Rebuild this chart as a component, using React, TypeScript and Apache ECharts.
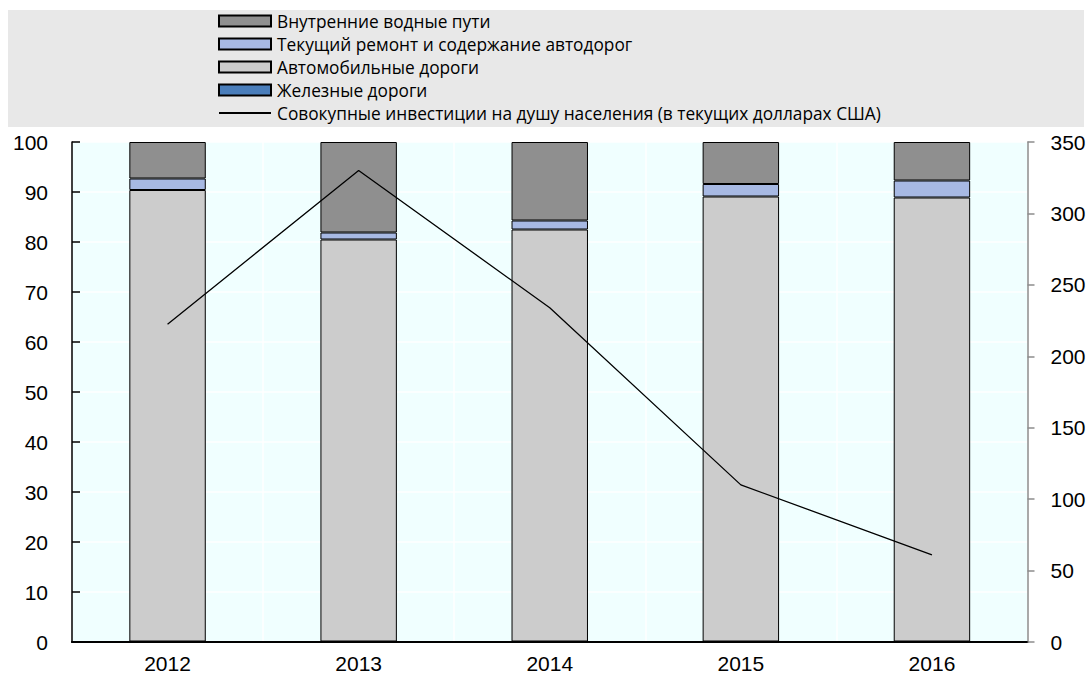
import React, { useEffect, useRef } from "react";
import * as echarts from "echarts";

const years = ["2012", "2013", "2014", "2015", "2016"];
const railways = [0.1, 0.1, 0.1, 0.1, 0.1];
const roads = [90.3, 80.4, 82.4, 89.0, 88.8];
const maintenance = [2.3, 1.4, 1.8, 2.5, 3.4];
const waterways = [7.3, 18.1, 15.7, 8.4, 7.7];
const perCapita = [222.5, 330, 234, 110, 61];
const leftTicks = { min: 0, max: 100, interval: 10 };
const rightTicks = { min: 0, max: 350, interval: 50 };

const names = {
  water: "Внутренние водные пути",
  maint: "Текущий ремонт и содержание автодорог",
  roads: "Автомобильные дороги",
  rail: "Железные дороги",
  line: "Совокупные инвестиции на душу населения (в текущих долларах США)",
};

export default function App() {
  const ref = useRef<HTMLDivElement>(null);
  useEffect(() => {
    if (!ref.current) return;
    const chart = echarts.init(ref.current, null, { renderer: "svg" });
    const axisFont = {
      fontFamily: "'Liberation Sans Narrow', 'Arial Narrow', 'Liberation Sans', Arial",
      fontSize: 21,
      color: "#000",
    };
    const barBase = (name: string, data: number[], color: string) => ({
      name,
      type: "bar",
      stack: "s",
      data,
      barWidth: "40%",
      itemStyle: { color, borderColor: "#000", borderWidth: 1 },
    });
    chart.setOption({
      animation: false,
      graphic: [
        {
          type: "rect",
          left: 8,
          top: 10,
          shape: { width: 1076, height: 117 },
          style: { fill: "#e8e8e8" },
          z: -10,
        },
      ],
      legend: {
        orient: "vertical",
        left: 218,
        top: 11,
        padding: 0,
        itemWidth: 52,
        itemHeight: 11,
        itemGap: 3,
        textStyle: {
          fontFamily: "Open Sans",
          fontSize: 17.3,
          color: "#000",
          lineHeight: 20,
          padding: [0, 0, 0, 1],
        },
        data: [
          { name: names.water, icon: "rect" },
          { name: names.maint, icon: "rect" },
          { name: names.roads, icon: "rect" },
          { name: names.rail, icon: "rect" },
          { name: names.line, itemStyle: { opacity: 0 } },
        ],
      },
      grid: {
        left: 72,
        right: 62.5,
        top: 142,
        bottom: 35,
        show: true,
        backgroundColor: "#f0ffff",
        borderWidth: 0,
      },
      xAxis: [
        {
          type: "category",
          data: years,
          axisLine: { lineStyle: { color: "#000", width: 2 } },
          axisTick: { inside: true, length: 8, lineStyle: { color: "#000", width: 1.5 } },
          axisLabel: { ...axisFont, margin: 11 },
          splitLine: { show: true, lineStyle: { color: "#ffffff", width: 1.5 } },
        },
        {
          type: "category",
          data: years,
          position: "top",
          axisLine: { lineStyle: { color: "#000", width: 1.5 } },
          axisTick: { show: false },
          axisLabel: { show: false },
          splitLine: { show: false },
        },
      ],
      yAxis: [
        {
          type: "value",
          ...leftTicks,
          position: "left",
          axisLine: { show: true, lineStyle: { color: "#000", width: 1.5 } },
          axisTick: { show: true, inside: true, length: 8, lineStyle: { color: "#000", width: 1.5 } },
          axisLabel: { ...axisFont, margin: 24 },
          splitLine: { show: true, lineStyle: { color: "#ffffff", width: 1.5 } },
        },
        {
          type: "value",
          ...rightTicks,
          position: "right",
          axisLine: { show: true, lineStyle: { color: "#8c8c8c", width: 1.5 } },
          axisTick: { show: true, inside: false, length: 7, lineStyle: { color: "#8c8c8c", width: 1.5 } },
          axisLabel: { ...axisFont, margin: 23 },
          splitLine: { show: false },
        },
      ],
      series: [
        barBase(names.rail, railways, "#4a7ebb"),
        barBase(names.roads, roads, "#cccccc"),
        barBase(names.maint, maintenance, "#a7b9e3"),
        barBase(names.water, waterways, "#8f8f8f"),
        {
          name: names.line,
          type: "line",
          yAxisIndex: 1,
          data: perCapita,
          symbol: "none",
          lineStyle: { color: "#000", width: 1.3 },
          itemStyle: { color: "#000" },
          z: 5,
        },
      ],
    });
    return () => chart.dispose();
  }, []);
  return (
    <div
      ref={ref}
      style={{ position: "absolute", left: 0, top: 0, width: 1090, height: 677 }}
    />
  );
}
